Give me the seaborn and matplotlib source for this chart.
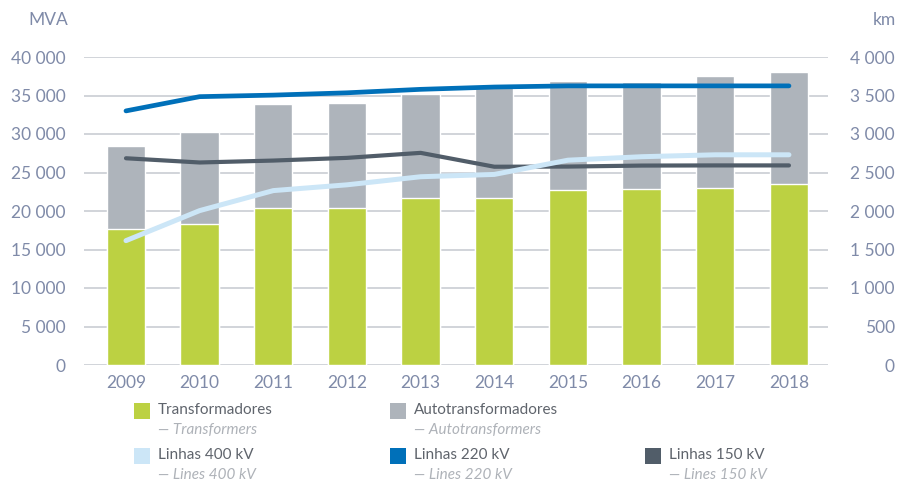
import matplotlib
matplotlib.use("Agg")
import matplotlib.pyplot as plt
from matplotlib.patches import Rectangle
import seaborn as sns

# data
YEARS = [2009, 2010, 2011, 2012, 2013, 2014, 2015, 2016, 2017, 2018]
TRANSFORMADORES = [17600, 18300, 20400, 20450, 21700, 21750, 22700, 22800, 23050, 23500]   # MVA
AUTOTRANSFORMADORES = [10800, 11950, 13500, 13550, 13500, 14350, 14200, 13950, 14500, 14550]  # MVA
LINHAS_400 = [1615, 2005, 2265, 2340, 2445, 2475, 2660, 2705, 2730, 2730]  # km
LINHAS_220 = [3300, 3485, 3505, 3535, 3580, 3610, 3625, 3625, 3625, 3625]  # km
LINHAS_150 = [2685, 2630, 2655, 2690, 2755, 2575, 2577, 2590, 2592, 2592]  # km

LEFT_TICKS = [0, 5000, 10000, 15000, 20000, 25000, 30000, 35000, 40000]
RIGHT_TICKS = [0, 500, 1000, 1500, 2000, 2500, 3000, 3500, 4000]

GREEN = "#BCD142"
GREY = "#AEB4BB"
LIGHT_BLUE = "#CCE6F7"
BLUE = "#0070B9"
DARK = "#515D69"
TICK_COLOR = "#7F8AA8"
TEXT_COLOR = "#5F646C"
SUB_COLOR = "#AEB2B8"

sns.set_style("white")
plt.rcParams["font.family"] = ["Lato", "DejaVu Sans"]

fig = plt.figure(figsize=(9, 4.82), dpi=100)
ax = fig.add_axes([84 / 900, 1 - 365 / 482, (828 - 84) / 900, (365 - 57) / 482])

totals = [t + a for t, a in zip(TRANSFORMADORES, AUTOTRANSFORMADORES)]
sns.barplot(x=YEARS, y=totals, native_scale=True, width=0.52, color=GREY,
            saturation=1, errorbar=None, ax=ax)
sns.barplot(x=YEARS, y=TRANSFORMADORES, native_scale=True, width=0.52, color=GREEN,
            saturation=1, errorbar=None, ax=ax)

ax.set_xlim(YEARS[0] - 0.57, YEARS[-1] + 0.53)
ax.set_ylim(0, 40000)
ax.set_xticks(YEARS)
ax.set_xticklabels([str(y) for y in YEARS])
ax.set_yticks(LEFT_TICKS)
ax.set_yticklabels([f"{v:,}".replace(",", " ") for v in LEFT_TICKS])
ax.grid(axis="y", color="#C9CDD3", linewidth=1.2)
ax.set_axisbelow(True)
ax.tick_params(axis="both", length=0, labelsize=12.5, colors=TICK_COLOR)
ax.tick_params(axis="y", pad=13)
ax.tick_params(axis="x", pad=7)
for s in ax.spines.values():
    s.set_visible(False)

ax2 = ax.twinx()
sns.lineplot(x=YEARS, y=LINHAS_150, color=DARK, linewidth=3.0, solid_capstyle="round", ax=ax2)
sns.lineplot(x=YEARS, y=LINHAS_400, color=LIGHT_BLUE, linewidth=3.6, solid_capstyle="round", ax=ax2)
sns.lineplot(x=YEARS, y=LINHAS_220, color=BLUE, linewidth=3.4, solid_capstyle="round", ax=ax2)
ax2.set_ylim(0, 4000)
ax2.set_yticks(RIGHT_TICKS)
ax2.set_yticklabels([f"{v:,}".replace(",", " ") for v in RIGHT_TICKS], ha="right")
ax2.tick_params(axis="y", length=0, labelsize=12.5, colors=TICK_COLOR, pad=48)
ax2.grid(False)
for s in ax2.spines.values():
    s.set_visible(False)

fig.text(68 / 900, 1 - 20 / 482, "MVA", ha="right", va="center", fontsize=12.5, color=TICK_COLOR)
fig.text(896 / 900, 1 - 20 / 482, "km", ha="right", va="center", fontsize=12.5, color=TICK_COLOR)

# legend built by hand: swatch, Portuguese label, English subtitle
legend_items = [
    (134, 403, GREEN, "Transformadores", "Transformers"),
    (390, 403, GREY, "Autotransformadores", "Autotransformers"),
    (134, 448, LIGHT_BLUE, "Linhas 400 kV", "Lines 400 kV"),
    (390, 448, BLUE, "Linhas 220 kV", "Lines 220 kV"),
    (645, 448, DARK, "Linhas 150 kV", "Lines 150 kV"),
]
for px, py, col, label, sub in legend_items:
    fig.add_artist(Rectangle((px / 900, 1 - (py + 16) / 482), 16 / 900, 16 / 482,
                             transform=fig.transFigure, color=col, lw=0))
    fig.text((px + 24) / 900, 1 - (py + 7) / 482, label, ha="left", va="center",
             fontsize=11, color=TEXT_COLOR)
    fig.text((px + 24) / 900, 1 - (py + 27) / 482, "\u2014 " + sub, ha="left", va="center",
             fontsize=11, color=SUB_COLOR, style="italic")

fig.savefig("out.png", dpi=100)
